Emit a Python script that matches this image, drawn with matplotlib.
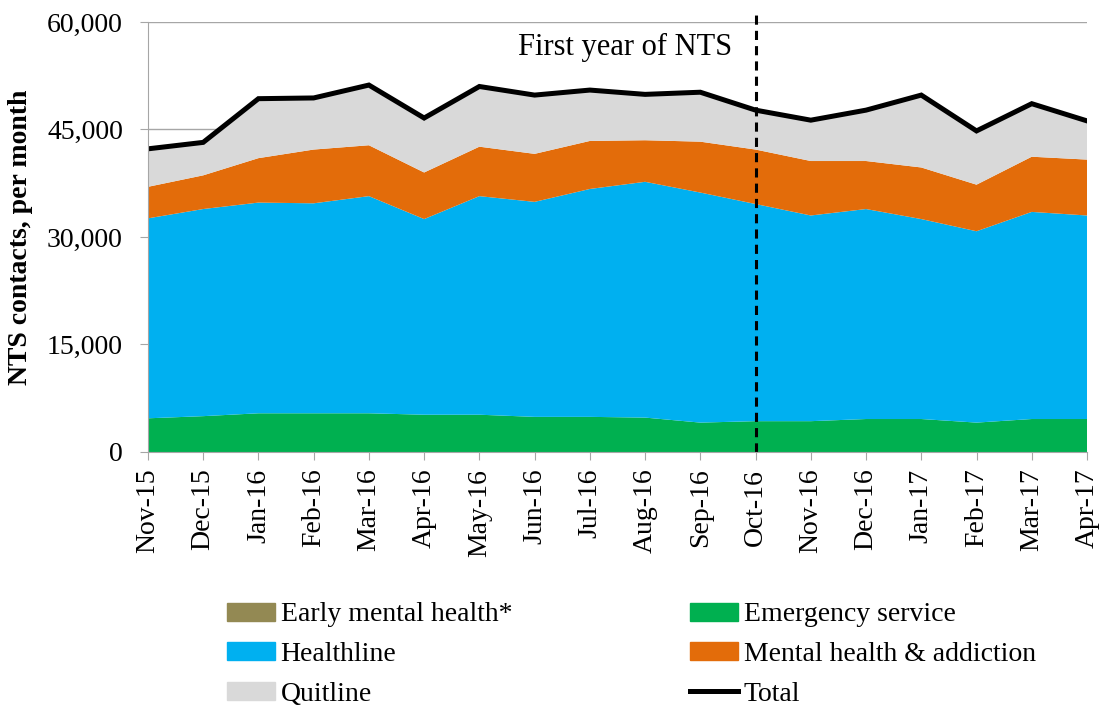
import numpy as np
import matplotlib
matplotlib.use("Agg")
import matplotlib.pyplot as plt
from matplotlib.patches import Patch
from matplotlib.lines import Line2D

plt.rcParams['font.family'] = ['Liberation Serif', 'DejaVu Serif']

months = ["Nov-15", "Dec-15", "Jan-16", "Feb-16", "Mar-16", "Apr-16", "May-16", "Jun-16", "Jul-16",
          "Aug-16", "Sep-16", "Oct-16", "Nov-16", "Dec-16", "Jan-17", "Feb-17", "Mar-17", "Apr-17"]

early_mh = [0] * 18
emergency = [4700, 5000, 5400, 5400, 5400, 5200, 5200, 4900, 4900,
             4800, 4100, 4300, 4300, 4600, 4600, 4100, 4600, 4600]
healthline = [27900, 28900, 29400, 29300, 30300, 27300, 30500, 30000, 31800,
              32900, 32100, 30300, 28700, 29300, 27900, 26700, 28900, 28400]
mental_health = [4400, 4700, 6200, 7500, 7100, 6500, 6900, 6700, 6700,
                 5800, 7100, 7600, 7600, 6700, 7200, 6500, 7700, 7800]
quitline = [5300, 4600, 8300, 7200, 8400, 7600, 8400, 8200, 7100,
            6400, 6900, 5500, 5700, 7100, 10100, 7500, 7400, 5400]

total = np.sum([early_mh, emergency, healthline, mental_health, quitline], axis=0)

colors = ["#938953", "#00B050", "#00B0F0", "#E36C0A", "#D9D9D9"]
labels = ["Early mental health*", "Emergency service", "Healthline",
          "Mental health & addiction", "Quitline"]

fig = plt.figure(figsize=(11.04, 7.07), dpi=100)
ax = fig.add_axes([0.134, 0.3607, 0.8506, 0.6082])

x = np.arange(len(months))
ax.stackplot(x, early_mh, emergency, healthline, mental_health, quitline,
             colors=colors, linewidth=0, zorder=2)
ax.plot(x, total, color="black", linewidth=3.6, zorder=3, solid_joinstyle="miter")

# first year marker
ax.plot([11, 11], [0, 61000], color="black", linestyle=(0, (3, 2)), linewidth=2.2,
        zorder=4, clip_on=False)
ax.text(10.57, 56500, "First year of NTS", ha="right", va="center", fontsize=22)

ax.set_xlim(0, len(months) - 1)
ax.set_ylim(0, 60000)
ax.set_yticks(np.arange(0, 60001, 15000))
ax.set_yticklabels([f"{v:,}" for v in range(0, 60001, 15000)], fontsize=20)
ax.set_xticks(x)
ax.set_xticklabels(months, rotation=90, fontsize=20)
ax.yaxis.grid(True, color="#A6A6A6", linewidth=1, zorder=1)
ax.set_axisbelow(True)
for s in ["top", "right"]:
    ax.spines[s].set_visible(False)
for s in ["left", "bottom"]:
    ax.spines[s].set_color("#A6A6A6")
    ax.spines[s].set_zorder(5)
ax.tick_params(axis="both", colors="#A6A6A6", labelcolor="black", length=6)
ax.tick_params(axis="y", pad=12)
ax.tick_params(axis="x", pad=6)
ax.set_ylabel("NTS contacts, per month", fontsize=20, fontweight="bold")
ax.yaxis.set_label_coords(-0.1225, 0.5)

handles = [Patch(color=colors[0]), Patch(color=colors[2]), Patch(color=colors[4]),
           Patch(color=colors[1]), Patch(color=colors[3]),
           Line2D([0], [0], color="black", linewidth=3.6)]
leg_labels = [labels[0], labels[2], labels[4], labels[1], labels[3], "Total"]
fig.legend(handles, leg_labels, ncol=2, loc="upper left", bbox_to_anchor=(0.183, 0.1834),
           frameon=False, fontsize=20, handlelength=1.73, handleheight=0.62,
           handletextpad=0.2, columnspacing=6.4, labelspacing=0.53)

fig.savefig("out.png", dpi=100)
